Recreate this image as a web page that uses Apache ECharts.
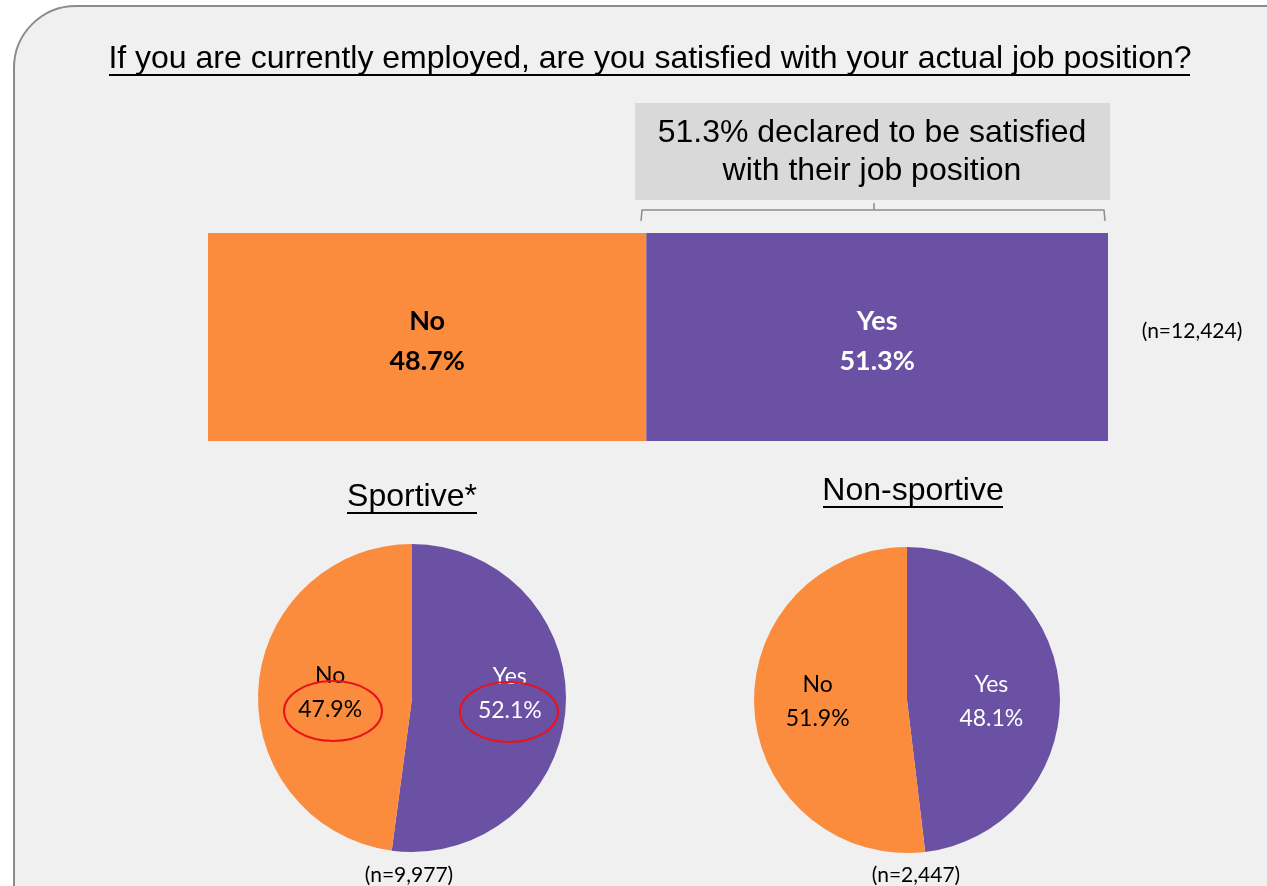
<!DOCTYPE html>
<html>
<head>
<meta charset="utf-8">
<script src="https://cdn.jsdelivr.net/npm/echarts@6/dist/echarts.min.js"></script>
<style>
  html, body { margin: 0; padding: 0; background: #ffffff; }
  #chart { width: 1267px; height: 886px; }
</style>
</head>
<body>
<div id="chart"></div>
<script>
// answer categories and shares (%)
const categories = ['No', 'Yes'];
const overallValues = [48.7, 51.3];
const sportiveValues = [47.9, 52.1];
const nonSportiveValues = [51.9, 48.1];
const sampleLabels = ['(n=12,424)', '(n=9,977)', '(n=2,447)'];
const groupTitles = ['Sportive*', 'Non-sportive'];
const chartTitle = 'If you are currently employed, are you satisfied with your actual job position?';
const calloutText = '51.3% declared to be satisfied\nwith their job position';

const colors = { No: '#fb8c3e', Yes: '#6a51a3' };
const sans = 'Liberation Sans, Arial, sans-serif';
const calibri = 'Lato, Open Sans, sans-serif';

const chart = echarts.init(document.getElementById('chart'));

// pie data: Yes first so it starts at 12 o'clock going clockwise
const pieData = (vals) => [
  { name: 'Yes', value: vals[1], itemStyle: { color: colors.Yes }, label: { color: '#ffffff' } },
  { name: 'No', value: vals[0], itemStyle: { color: colors.No }, label: { color: '#000000' } }
];

const pieLabel = {
  show: true,
  position: 'inside',
  fontFamily: calibri,
  fontSize: 23,
  lineHeight: 34,
  formatter: (p) => p.name + '\n' + p.value.toFixed(1) + '%'
};

const option = {
  backgroundColor: '#ffffff',
  animation: false,
  grid: { left: 208, top: 233, width: 900, height: 208 },
  xAxis: { type: 'value', min: 0, max: 100, show: false },
  yAxis: { type: 'category', data: ['all'], show: false },
  series: [
    ...categories.map((c, i) => ({
      type: 'bar',
      name: c,
      stack: 'total',
      barWidth: '100%',
      data: [overallValues[i]],
      itemStyle: { color: colors[c] },
      label: {
        show: true,
        position: 'inside',
        offset: [0, 4],
        color: c === 'Yes' ? '#ffffff' : '#000000',
        fontFamily: calibri,
        fontWeight: 'bold',
        fontSize: 27,
        lineHeight: 40,
        formatter: (p) => c + '\n' + p.value.toFixed(1) + '%'
      }
    })),
    {
      type: 'pie',
      center: [412, 698],
      radius: 154,
      startAngle: 90,
      clockwise: true,
      data: pieData(sportiveValues),
      label: pieLabel,
      labelLine: { show: false },
      labelLayout: (p) => (p.dataIndex === 0 ? { dx: 18, dy: -10 } : { dx: -2, dy: 0 }),
      emphasis: { disabled: true }
    },
    {
      type: 'pie',
      center: [907, 700],
      radius: 153,
      startAngle: 90,
      clockwise: true,
      data: pieData(nonSportiveValues),
      label: pieLabel,
      labelLine: { show: false },
      labelLayout: (p) => (p.dataIndex === 0 ? { dx: 5, dy: 6 } : { dx: -10, dy: -3 }),
      emphasis: { disabled: true }
    }
  ],
  graphic: [
    // rounded panel
    {
      type: 'rect', z: -10,
      shape: { x: 14, y: 6, width: 1320, height: 940, r: 62 },
      style: { fill: '#f0f0f0', stroke: '#8c8c8c', lineWidth: 2 }
    },
    // title + underline
    {
      type: 'text', x: 650, y: 59,
      style: { text: chartTitle, fontFamily: sans, fontSize: 32, fill: '#000', align: 'center', verticalAlign: 'middle' }
    },
    { type: 'line', shape: { x1: 109, y1: 75, x2: 1190, y2: 75 }, style: { stroke: '#000', lineWidth: 2 } },
    // callout box
    {
      type: 'rect', shape: { x: 635, y: 103, width: 475, height: 97 },
      style: { fill: '#d9d9d9' }
    },
    {
      type: 'text', x: 872, y: 152,
      style: { text: calloutText, fontFamily: sans, fontSize: 32, lineHeight: 38, fill: '#000', align: 'center', verticalAlign: 'middle' }
    },
    // bracket
    {
      type: 'polyline',
      shape: { points: [[641, 221], [642, 210], [1104, 210], [1105, 221]] },
      style: { stroke: '#8c8c8c', lineWidth: 1.5, fill: null }
    },
    { type: 'line', shape: { x1: 874, y1: 203, x2: 874, y2: 210 }, style: { stroke: '#8c8c8c', lineWidth: 1.5 } },
    // sample size labels
    {
      type: 'text', x: 1192, y: 331,
      style: { text: sampleLabels[0], fontFamily: calibri, fontSize: 21, fill: '#000', align: 'center', verticalAlign: 'middle' }
    },
    {
      type: 'text', x: 409, y: 875,
      style: { text: sampleLabels[1], fontFamily: calibri, fontSize: 21, fill: '#000', align: 'center', verticalAlign: 'middle' }
    },
    {
      type: 'text', x: 916, y: 875,
      style: { text: sampleLabels[2], fontFamily: calibri, fontSize: 21, fill: '#000', align: 'center', verticalAlign: 'middle' }
    },
    // group titles + underlines
    {
      type: 'text', x: 412, y: 497,
      style: { text: groupTitles[0], fontFamily: sans, fontSize: 32, fill: '#000', align: 'center', verticalAlign: 'middle' }
    },
    { type: 'line', shape: { x1: 347, y1: 513, x2: 477, y2: 513 }, style: { stroke: '#000', lineWidth: 2 } },
    {
      type: 'text', x: 913, y: 491,
      style: { text: groupTitles[1], fontFamily: sans, fontSize: 32, fill: '#000', align: 'center', verticalAlign: 'middle' }
    },
    { type: 'line', shape: { x1: 823, y1: 507, x2: 1003, y2: 507 }, style: { stroke: '#000', lineWidth: 2 } },
    // red highlight ellipses
    {
      type: 'ellipse', z: 100,
      shape: { cx: 333, cy: 711, rx: 49, ry: 30 },
      style: { fill: null, stroke: '#e8141c', lineWidth: 2 }
    },
    {
      type: 'ellipse', z: 100,
      shape: { cx: 509, cy: 712, rx: 49, ry: 30 },
      style: { fill: null, stroke: '#e8141c', lineWidth: 2 }
    }
  ]
};

chart.setOption(option);
</script>
</body>
</html>
